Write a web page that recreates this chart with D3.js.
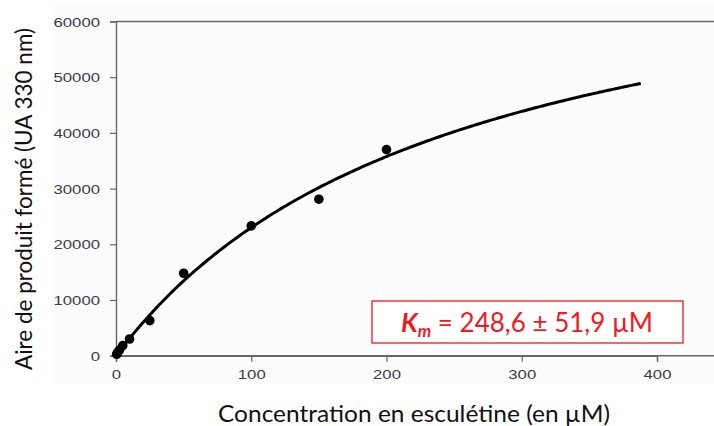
<!DOCTYPE html>
<html>
<head>
<meta charset="utf-8">
<script src="https://cdn.jsdelivr.net/npm/d3@7"></script>
<style>
  html, body { margin: 0; padding: 0; background: #fff; }
  svg { display: block; }
</style>
</head>
<body>
<script>
// Measured product formation vs. esculetin concentration
const concentrations = [0.5, 1, 2.5, 5, 10, 25, 50, 100, 150, 200];
const productArea    = [250, 500, 1000, 1800, 3000, 6300, 14800, 23300, 28100, 37000];

// Michaelis–Menten fit parameters
const km = 248.6;
const kmError = 51.9;
const vmax = 80200;
const fitMaxConc = 388;

const xTicks = [0, 100, 200, 300, 400];
const yTicks = [0, 10000, 20000, 30000, 40000, 50000, 60000];

const W = 714, H = 426;
const svg = d3.select("body").append("svg").attr("width", W).attr("height", H);

// faint panel background of the exported graph
svg.append("rect").attr("x", 52).attr("y", 3).attr("width", W - 52).attr("height", 381)
  .attr("fill", "#fcfcfc");

const x = d3.scaleLinear().domain([0, 400]).range([116, 657]);
const y = d3.scaleLinear().domain([0, 60000]).range([355.7, 21.5]);

const axisColor = "#666";
const tickFont = "'Liberation Sans', Arial, sans-serif";

// frame: bottom axis and top border run to the right edge
svg.append("line").attr("x1", x(0)).attr("x2", W).attr("y1", y(0)).attr("y2", y(0))
  .attr("stroke", axisColor).attr("stroke-width", 1.4);
svg.append("line").attr("x1", x(0)).attr("x2", W).attr("y1", y(60000)).attr("y2", y(60000))
  .attr("stroke", axisColor).attr("stroke-width", 1.4);

const yAxis = d3.axisLeft(y).tickValues(yTicks).tickSize(6).tickPadding(10).tickFormat(d3.format("d"));
const gy = svg.append("g").attr("transform", `translate(${x(0)},0)`).call(yAxis);

const xAxis = d3.axisBottom(x).tickValues(xTicks).tickSize(6).tickPadding(6).tickFormat(d3.format("d"));
const gx = svg.append("g").attr("transform", `translate(0,${y(0)})`).call(xAxis);

[gy, gx].forEach(g => {
  g.select(".domain").attr("stroke", axisColor).attr("stroke-width", 1.4);
  g.selectAll(".tick line").attr("stroke", axisColor).attr("stroke-width", 1.2);
  g.selectAll(".tick text")
    .attr("font-family", tickFont).attr("font-size", 13).attr("fill", "#3a3a4a")
    .attr("textLength", d => String(d).length * 9.3)
    .attr("lengthAdjust", "spacingAndGlyphs");
});
gy.selectAll(".tick text").attr("dy", "0.36em");
gx.selectAll(".tick text").attr("dy", "0.9em");

// fitted curve
const fitX = d3.range(0, fitMaxConc + 0.01, 2);
const line = d3.line().x(d => x(d)).y(d => y(vmax * d / (km + d))).curve(d3.curveBasis);
svg.append("path").datum(fitX).attr("d", line)
  .attr("fill", "none").attr("stroke", "#000").attr("stroke-width", 3);

// data points
svg.append("g").selectAll("circle")
  .data(concentrations.map((c, i) => [c, productArea[i]]))
  .join("circle")
  .attr("cx", d => x(d[0])).attr("cy", d => y(d[1])).attr("r", 4.8)
  .attr("fill", "#000");

// axis titles
const titleFont = "Lato, 'Open Sans', sans-serif";
svg.append("text")
  .attr("transform", "translate(32,199) rotate(-90)")
  .attr("text-anchor", "middle")
  .attr("font-family", titleFont).attr("font-size", 23).attr("fill", "#111")
  .attr("textLength", 342).attr("lengthAdjust", "spacingAndGlyphs")
  .text("Aire de produit formé (UA 330 nm)");

svg.append("text")
  .attr("x", 414).attr("y", 422)
  .attr("text-anchor", "middle")
  .attr("font-family", titleFont).attr("font-size", 24).attr("fill", "#111")
  .attr("textLength", 392).attr("lengthAdjust", "spacingAndGlyphs")
  .text("Concentration en esculétine (en µM)");

// Km annotation box
const red = "#f01a1f";
svg.append("rect").attr("x", 372).attr("y", 301).attr("width", 311).attr("height", 42)
  .attr("fill", "#fff").attr("stroke", red).attr("stroke-width", 1.3);

const fmt = v => String(v).replace(".", ",");
const kmText = svg.append("text")
  .attr("x", 527).attr("y", 332)
  .attr("text-anchor", "middle")
  .attr("font-family", titleFont).attr("font-size", 26).attr("fill", red);
kmText.append("tspan").attr("font-weight", "bold").attr("font-style", "italic").text("K");
kmText.append("tspan").attr("font-weight", "bold").attr("font-style", "italic")
  .attr("font-size", 17).attr("dy", 5).text("m");
kmText.append("tspan").attr("dy", -5).text(` = ${fmt(km)} ± ${fmt(kmError)} µM`);
</script>
</body>
</html>
